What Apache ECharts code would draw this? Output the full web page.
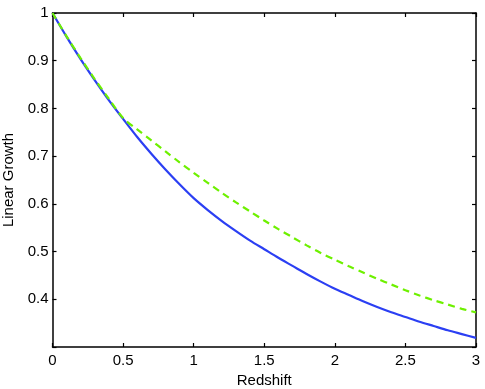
<!DOCTYPE html>
<html>
<head>
<meta charset="utf-8">
<script src="https://cdn.jsdelivr.net/npm/echarts@6/dist/echarts.min.js"></script>
<style>html,body{margin:0;padding:0;background:#fff}#c{width:485px;height:389px}</style>
</head>
<body>
<div id="c"></div>
<script>
const redshift = [0.0, 0.1, 0.2, 0.3, 0.4, 0.5, 0.6, 0.7, 0.8, 0.9, 1.0, 1.1, 1.2, 1.3, 1.4, 1.5, 1.6, 1.7, 1.8, 1.9, 2.0, 2.1, 2.2, 2.3, 2.4, 2.5, 2.6, 2.7, 2.8, 2.9, 3.0];
const blueGrowth = [1.000, 0.950, 0.903, 0.859, 0.817, 0.778, 0.740, 0.705, 0.672, 0.641, 0.612, 0.587, 0.564, 0.543, 0.523, 0.505, 0.487, 0.470, 0.453, 0.437, 0.422, 0.409, 0.396, 0.384, 0.373, 0.363, 0.353, 0.344, 0.335, 0.327, 0.319];
const greenGrowth = [1.000, 0.951, 0.905, 0.861, 0.820, 0.780, 0.756, 0.733, 0.710, 0.687, 0.665, 0.644, 0.623, 0.603, 0.584, 0.565, 0.547, 0.530, 0.513, 0.497, 0.483, 0.469, 0.456, 0.443, 0.431, 0.419, 0.408, 0.398, 0.389, 0.380, 0.3725];
const xTicks = [0, 0.5, 1, 1.5, 2, 2.5, 3];
const yTicks = [0.4, 0.5, 0.6, 0.7, 0.8, 0.9, 1];

const font = 'Liberation Sans';
const chart = echarts.init(document.getElementById('c'));
const pair = (xs, ys) => xs.map((x, i) => [x, ys[i]]);
const fmt = v => String(+(+v).toFixed(1));
const axisCommon = {
  type: 'value',
  axisLine: { show: true, onZero: false, lineStyle: { color: '#000', width: 1.5 } },
  axisTick: { show: true, inside: true, length: 4, lineStyle: { color: '#000', width: 1.2 } },
  splitLine: { show: false }
};
chart.setOption({
  animation: false,
  grid: { left: 52.5, right: 9, top: 13, bottom: 42, containLabel: false, outerBoundsMode: 'none' },
  xAxis: [
    Object.assign({}, axisCommon, {
      min: 0, max: 3, interval: 0.5, position: 'bottom',
      name: 'Redshift', nameLocation: 'middle', nameGap: 23,
      nameTextStyle: { fontFamily: font, fontSize: 15, color: '#000' },
      axisLabel: { fontFamily: font, fontSize: 15, color: '#000', margin: 6,
        formatter: v => xTicks.some(t => Math.abs(t - v) < 1e-9) ? fmt(v) : '' }
    }),
    Object.assign({}, axisCommon, {
      min: 0, max: 3, interval: 0.5, position: 'top', axisLabel: { show: false }
    })
  ],
  yAxis: [
    Object.assign({}, axisCommon, {
      min: 0.3, max: 1, interval: 0.1, position: 'left',
      name: 'Linear Growth', nameLocation: 'middle', nameGap: 30,
      nameTextStyle: { fontFamily: font, fontSize: 15, color: '#000' },
      axisLabel: { fontFamily: font, fontSize: 15, color: '#000', margin: 4,
        formatter: v => yTicks.some(t => Math.abs(t - v) < 1e-9) ? fmt(v) : '' }
    }),
    Object.assign({}, axisCommon, {
      min: 0.3, max: 1, interval: 0.1, position: 'right', axisLabel: { show: false }
    })
  ],
  series: [
    { type: 'line', data: pair(redshift, blueGrowth), smooth: 0.3, symbol: 'none',
      lineStyle: { color: '#2b3ff3', width: 2.2 } },
    { type: 'line', data: pair(redshift, greenGrowth), smooth: 0.3, symbol: 'none',
      lineStyle: { color: '#6ef000', width: 2.2, type: [7, 5] } }
  ]
});
</script>
</body>
</html>
